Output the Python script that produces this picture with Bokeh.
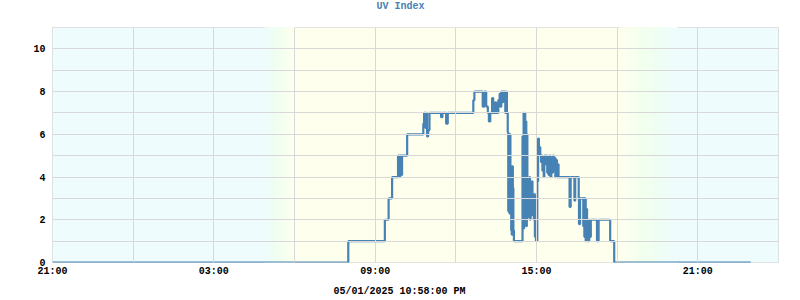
from bokeh.plotting import figure
from bokeh.models import FixedTicker, Range1d, Title
from bokeh.embed import file_html
from bokeh.resources import INLINE

# hours relative to midnight of 05/01/2025 (negative = previous evening)
times = [-3, 8.00, 9.36, 9.50, 9.63, 9.85, 9.90, 9.93, 9.97, 10.00, 10.19,
         10.79, 10.82, 10.87, 10.90, 10.93, 10.97, 11.02, 11.45, 11.50, 11.64, 11.70,
         12.65, 12.69, 13.00, 13.06, 13.13, 13.19, 13.23, 13.28, 13.35, 13.39, 13.46,
         13.50, 13.58, 13.63, 13.65, 13.69, 13.73, 13.76, 13.84, 13.88, 13.90, 13.93,
         13.95, 13.96, 13.97, 13.98, 13.99, 14.00, 14.01, 14.02, 14.03, 14.045, 14.06,
         14.07, 14.08, 14.09, 14.10, 14.11, 14.12, 14.13, 14.14, 14.16,
         14.48, 14.50, 14.52, 14.53, 14.54, 14.55, 14.56, 14.58, 14.60, 14.62, 14.64,
         14.66, 14.68, 14.70, 14.72, 14.74, 14.76, 14.78, 14.80, 14.83, 14.85, 14.88,
         14.90, 14.92, 14.94, 14.96, 14.98, 15.03, 15.06, 15.09,
         15.14, 15.17, 15.19, 15.22, 15.24, 15.27, 15.29, 15.33, 15.36, 15.40, 15.42,
         15.45, 15.48, 15.52, 15.55, 15.58, 15.61, 15.64, 15.67, 15.70, 15.73, 15.76,
         15.79, 15.82, 16.23, 16.27, 16.41, 16.44, 16.57, 16.58, 16.62, 16.74, 16.76,
         16.78, 16.80, 16.83, 16.85, 16.88, 16.90, 16.93, 16.96, 16.99, 17.02, 17.25,
         17.31, 17.74, 17.89, 22.97]
uv = [0, 1, 2, 3, 4, 5, 4, 5, 4.1, 5, 6,
      6.5, 7, 6.3, 7, 5.9, 6.2, 7, 6.8, 7, 6.5, 7,
      7.6, 8, 7.3, 8, 7.3, 7.0, 6.6, 7.0, 7.7, 7.0, 7.5,
      7.0, 7.6, 7.9, 7.3, 8.0, 7.5, 8.0, 7.0, 8.0, 7.0, 6.1,
      2.4, 5.8, 3.0, 6.0, 2.3, 5.5, 2.5, 6.0, 2.3, 4.5, 1.5,
      4.4, 1.3, 4.5, 2.0, 4.5, 1.3, 3.5, 1.5, 1.0,
      5.9, 1.6, 7.0, 1.6, 6.8, 2.0, 7.0, 2.5, 6.6, 1.7, 6.0,
      2.1, 3.5, 2.2, 3.0, 4.0, 2.0, 3.3, 2.2, 3.8, 2.5, 3.1,
      2.0, 3.2, 1.2, 2.5, 1.0, 3.8, 5.8, 5.4,
      5.0, 4.7, 5.0, 4.3, 4.9, 4.0, 5.0, 4.6, 5.0, 4.2, 4.9,
      4.1, 5.0, 4.0, 4.9, 4.2, 5.0, 4.3, 4.9, 4.0, 4.8, 4.0,
      4.6, 4.0, 2.6, 4.0, 2.9, 4.0, 3.0, 1.8, 3.0, 1.7, 3.0,
      1.2, 3.0, 1.0, 2.5, 1.0, 2.0, 1.0, 2.0, 1.2, 2.0, 1.0,
      2.0, 1.0, 0.0, 0.0]

x_ticks = [-3, 3, 9, 15, 21]
x_tick_labels = ["21:00", "03:00", "09:00", "15:00", "21:00"]
x_grid = list(range(-3, 25, 3))
y_ticks = [0, 2, 4, 6, 8, 10]
y_grid = list(range(0, 12))
title_text = "UV Index"
date_text = "05/01/2025 10:58:00 PM"
sunrise = (4.85, 6.0)
sunset = (18.0, 20.25)
x_start, x_end = -3, 24
y_start, y_end = 0, 11

NIGHT = (0xEE, 0xFC, 0xFD)
DUSK = (0xF0, 0xFF, 0xEE)
DAY = (0xFF, 0xFF, 0xEE)
LINE = "#4682B4"
GRID = "#D8D8D8"
FONT = "Liberation Mono"

p = figure(width=800, height=300, output_backend="svg", toolbar_location=None,
           x_range=Range1d(x_start, x_end), y_range=Range1d(y_start, y_end),
           min_border_left=52, min_border_right=22, min_border_top=27,
           min_border_bottom=38, background_fill_color=None)
p.outline_line_color = GRID
p.outline_line_width = 1


def hexcol(c):
    return "#%02x%02x%02x" % tuple(int(round(v)) for v in c)


def lerp(a, b, f):
    return tuple(a[i] + (b[i] - a[i]) * f for i in range(3))


def grad_color(f):
    if f < 0.5:
        return hexcol(lerp(NIGHT, DUSK, f * 2))
    return hexcol(lerp(DUSK, DAY, (f - 0.5) * 2))


# background: night / day bands with gradient transitions
p.quad(left=[x_start, sunset[1]], right=[sunrise[1], x_end], bottom=y_start, top=y_end,
       fill_color=hexcol(NIGHT), line_color=None)
p.quad(left=[sunrise[0]], right=[sunset[1]], bottom=y_start, top=y_end,
       fill_color=hexcol(DAY), line_color=None)
n = 40
lefts, rights, cols = [], [], []
for i in range(n):
    f = i / (n - 1)
    lefts.append(sunrise[0] + (sunrise[1] - sunrise[0]) * i / n)
    rights.append(sunrise[1])
    cols.append(grad_color(f))
for i in range(n):
    f = 1 - i / (n - 1)
    lefts.append(sunset[0] + (sunset[1] - sunset[0]) * i / n)
    rights.append(sunset[1])
    cols.append(grad_color(f))
p.quad(left=lefts, right=rights, bottom=y_start, top=y_end, fill_color=cols, line_color=None)

p.step(times, uv, mode="after", line_color=LINE, line_width=2.2)

p.xaxis.ticker = FixedTicker(ticks=x_ticks, minor_ticks=x_grid)
p.xaxis.major_label_overrides = {t: l for t, l in zip(x_ticks, x_tick_labels)}
p.yaxis.ticker = FixedTicker(ticks=y_ticks, minor_ticks=y_grid)
for ax in (p.xaxis, p.yaxis):
    ax.axis_line_color = None
    ax.major_tick_line_color = None
    ax.minor_tick_line_color = None
    ax.major_tick_out = 0
    ax.minor_tick_out = 0
    ax.major_tick_in = 0
    ax.minor_tick_in = 0
    ax.major_label_text_font = FONT
    ax.major_label_text_font_size = "10px"
    ax.major_label_text_font_style = "bold"
    ax.major_label_text_color = "black"
p.xaxis.major_label_standoff = 3
p.yaxis.major_label_standoff = 7

for g in (p.xgrid, p.ygrid):
    g.grid_line_color = GRID
    g.minor_grid_line_color = GRID
p.xgrid.ticker = FixedTicker(ticks=x_ticks, minor_ticks=x_grid)
p.ygrid.ticker = FixedTicker(ticks=y_ticks, minor_ticks=y_grid)
p.xgrid.level = "glyph"
p.ygrid.level = "glyph"

# title (outermost above panel) plus a blank spacer between it and the frame
p.title.text = title_text
p.title.align = "left"
p.title.offset = 324
p.title.vertical_align = "top"
p.title.standoff = -4
p.title.text_color = LINE
p.title.text_font = FONT
p.title.text_font_size = "10px"
p.title.text_font_style = "bold"
p.add_layout(Title(text=" ", text_font=FONT, text_font_size="10px", standoff=3), "above")

p.add_layout(Title(text=date_text, align="left", offset=281, vertical_align="bottom",
                   standoff=8, text_font=FONT, text_font_size="10px",
                   text_font_style="bold", text_color="black"), "below")

open("out.html", "w").write(file_html(p, INLINE))
